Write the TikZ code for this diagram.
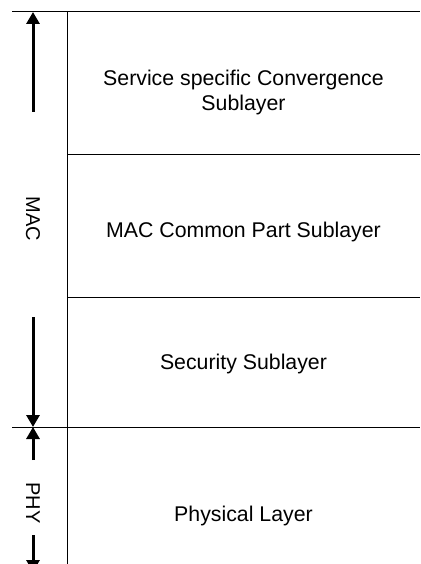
\documentclass[tikz,border=0pt]{standalone}
\usepackage{fontspec}
\setmainfont{Liberation Sans}
\usetikzlibrary{arrows.meta,positioning}

\begin{document}
\begin{tikzpicture}[x=1pt, y=-1pt,
    rule/.style={line width=1pt},
    span/.style={line width=3pt, -{Triangle[length=12pt,width=13pt]}},
    layer/.style={font=\fontsize{21.3}{25}\selectfont, align=center},
    side/.style={font=\fontsize{20}{24}\selectfont, rotate=-90}]
    \useasboundingbox (0,0) rectangle (420,564);
    \clip (0,0) rectangle (420,564);
    % boundaries
    \coordinate (topL) at (12,12);   \coordinate (topR) at (420,12);
    \coordinate (colT) at (67,12);   \coordinate (colB) at (67,570);
    \coordinate (b1L) at (67,155);   \coordinate (b1R) at (420,155);
    \coordinate (b2L) at (67,297);   \coordinate (b2R) at (420,297);
    \coordinate (b3L) at (12,427);   \coordinate (b3R) at (420,427);
    \draw[rule] (topL) -- (topR);
    \draw[rule] (colT) -- (colB);
    \draw[rule] (b1L) -- (b1R);
    \draw[rule] (b2L) -- (b2R);
    \draw[rule] (b3L) -- (b3R);

    % sublayers
    \node[layer] (convergence) at (243.5,92) {Service specific Convergence\\Sublayer};
    \node[layer] (common) at (243.5,232) {MAC Common Part Sublayer};
    \node[layer] (security) at (243.5,364) {Security Sublayer};
    \node[layer] (physical) at (243.5,515.5) {Physical Layer};

    % extents
    \node[side] (mac) at (33,219) {MAC};
    \node[side] (phylbl) at (33,503) {PHY};
    \coordinate (macTop) at (33,12);
    \coordinate (macBot) at (33,427);
    \coordinate (phyTop) at (33,427);
    \coordinate (phyBot) at (33,572);
    \draw[span] (33,112) -- (macTop);
    \draw[span] (33,317) -- (macBot);
    \draw[span] (33,460) -- (phyTop);
    \draw[span] (33,535) -- (phyBot);
\end{tikzpicture}
\end{document}
